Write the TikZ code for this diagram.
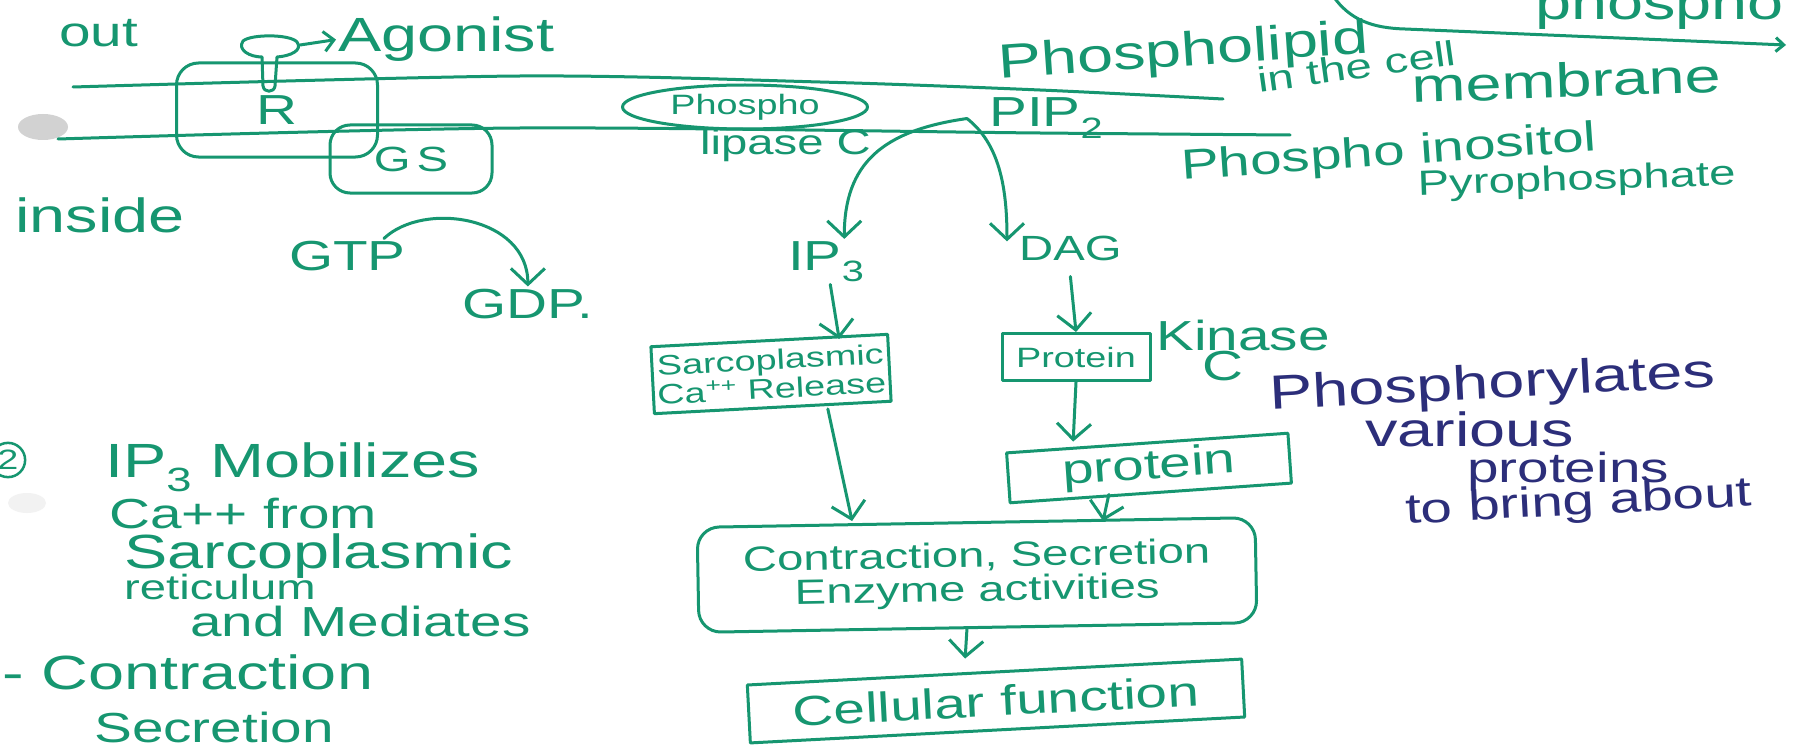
\documentclass[tikz,border=0pt]{standalone}
\usepackage{fontspec}
\setmainfont{Liberation Sans}[FakeStretch=1.35]
\usetikzlibrary{positioning}
\usetikzlibrary{shapes.geometric, arrows.meta}
\definecolor{ink}{RGB}{22,150,112}
\definecolor{bink}{RGB}{44,46,122}

\begin{document}
\begin{tikzpicture}[x=1pt,y=-1pt,line cap=round,line join=round,
  hwL/.style={text=ink,inner sep=2pt,font=\fontsize{48}{48}\selectfont},
  hw/.style={text=ink,inner sep=2pt,font=\fontsize{42}{42}\selectfont},
  hwm/.style={text=ink,inner sep=2pt,font=\fontsize{35}{34}\selectfont},
  hws/.style={text=ink,inner sep=2pt,font=\fontsize{28}{29}\selectfont},
  hwB/.style={hwL,text=bink},
  pen/.style={draw=ink,line width=3pt},
  box/.style={pen,inner sep=3pt},
  arr/.style={pen,-{Straight Barb[length=16pt,width=34pt]}},
  arrS/.style={pen,-{Straight Barb[length=10pt,width=20pt]}}]
\fill[white] (0,0) rectangle (1793,749);
\useasboundingbox (0,0) rectangle (1793,749);
\fill[gray!35] (43,127) ellipse [x radius=25, y radius=13];
\fill[gray!10] (27,503) ellipse [x radius=19, y radius=10];

\draw[pen] plot[smooth] coordinates {(73,87) (520,76) (820,82) (1040,90) (1223,99)};
\draw[pen] plot[smooth] coordinates {(58,139) (520,128) (1040,133) (1290,135)};

\node[hw,anchor=base west] (out) at (57,47) {out};
\node[hwL,anchor=base west] (inside) at (13,232) {inside};
\node[box,rounded corners=22pt,minimum width=201pt,minimum height=94pt,hw] (R) at (277,110) {R};
\node[box,rounded corners=20pt,minimum width=162pt,minimum height=68pt,hwm] (Gs) at (411,159) {G\,S};

\draw[pen] (262,57) -- (263,86) .. controls (264,93) and (274,93) .. (275,86) -- (277,57) .. controls (291,56) and (303,50) .. (297,42) .. controls (290,34) and (251,34) .. (243,41) .. controls (237,50) and (250,57) .. (262,57) -- cycle;
\coordinate (cap) at (300,45);
\node[hwL,anchor=base west] (agonist) at (336,52) {Agonist};
\draw[arrS] (cap) -- (agonist.west);

\node[hw,anchor=base west] (GTP) at (287,270) {GTP};
\node[hw,anchor=base west] (GDP) at (460,318) {GDP.};
\draw[arr] ([xshift=-24pt]GTP.north east) .. controls +(40,-38) and +(0,-70) .. (GDP.north);

\node[hws,ellipse,draw=ink,line width=3pt,minimum width=245pt,minimum height=44pt,inner sep=0pt] (PLC) at (745,107) {Phospho};
\node[hwm,anchor=base west] (lipase) at (698,154) {lipase C};
\node[hw,anchor=base west] (PIP2) at (987,127) {PIP\textsubscript{2}};

\node[hwL,anchor=base west,rotate=4] (plipid) at (997,79) {Phospholipid};
\node[hwm,anchor=base west,rotate=8] (cellword) at (1257,93) {in the cell};
\node[hwL,anchor=base west,rotate=2] (membrane) at (1410,103) {membrane};
\node[hw,anchor=base west,rotate=4] (pinos) at (1180,180) {Phospho inositol};
\node[hwm,anchor=base west,rotate=2] (pyro) at (1416,196) {Pyrophosphate};

\coordinate (arcTop) at (1333,-4);
\coordinate (arrowEnd) at (1786,45);
\draw[pen,-{Straight Barb[length=8pt,width=14pt]}] (arcTop) .. controls (1350,20) and (1372,28) .. (1405,29) -- (arrowEnd);
\begin{scope}
\clip (1480,0) rectangle (1793,60);
\node[hwL,anchor=base west] (topword) at (1533,20) {phospho};
\end{scope}

\node[hw,anchor=base west] (IP3) at (786,270) {IP\textsubscript{3}};
\node[hwm,anchor=base west] (DAG) at (1017,260) {DAG};
\draw[arr] ([xshift=-20pt]PIP2.west) .. controls +(-85,12) and +(0,-75) .. ([xshift=18pt]IP3.north);
\draw[arr] ([xshift=-20pt]PIP2.west) .. controls +(32,25) and +(0,-55) .. ([xshift=-10pt,yshift=-8pt]DAG.north west);

\node[box,hws,align=center,minimum width=237pt,minimum height=67pt,rotate=3] (sarco) at (771,374) {Sarcoplasmic\\Ca\textsuperscript{++} Release};
\draw[arr] ([xshift=4pt]IP3.south) -- ([xshift=70pt]sarco.north);

\node[box,hws,minimum width=148pt,minimum height=47pt] (PKC) at (1076,357) {Protein};
\node[hw,anchor=base west] (kinase) at (1154,350) {Kinase};
\node[hw,anchor=base west] (kinC) at (1200,380) {C};
\draw[arr] ([yshift=-14pt]DAG.south) -- (PKC.north);

\node[box,hw,minimum width=282pt,minimum height=50pt,rotate=4] (protein) at (1149,468) {protein};
\draw[arr] (PKC.south) -- ([xshift=-74pt]protein.north);

\node[box,hwm,align=center,rounded corners=22pt,minimum width=558pt,minimum height=105pt,rotate=1] (contr) at (977,575) {Contraction, Secretion\\Enzyme activities};
\draw[arr] ([xshift=55pt]sarco.south) -- ([xshift=-124pt]contr.north);
\draw[arr] ([xshift=-42pt]protein.south) -- ([xshift=127pt]contr.north);

\node[box,hw,minimum width=495pt,minimum height=58pt,rotate=3] (cell) at (996,701) {Cellular function};
\draw[arr,shorten >=12pt] ([xshift=-11pt]contr.south) -- ([xshift=-30pt]cell.north);

\node[draw=ink,line width=2.5pt,circle,hws,inner sep=2pt] (num) at (8,460) {2};
\node[hwL,anchor=base west] (mobil) at (103,477) {IP\textsubscript{3} Mobilizes};
\node[hw,anchor=base west] (cafrom) at (107,528) {Ca++ from};
\node[hwL,anchor=base west] (sarcL) at (122,568) {Sarcoplasmic};
\node[hwm,anchor=base west] (retic) at (122,599) {reticulum};
\node[hw,anchor=base west] (mediates) at (188,636) {and Mediates};
\node[hwL,anchor=base west] (contrL) at (0,689) {- Contraction};
\node[hw,anchor=base west] (secrL) at (92,742) {Secretion};

\node[hwB,anchor=base west,rotate=3] (phosph) at (1268,410) {Phosphorylates};
\node[hwB,anchor=base west] (various) at (1363,446) {various};
\node[hwB,font=\fontsize{42}{42}\selectfont,anchor=base west] (proteins) at (1465,482) {proteins};
\node[hwB,font=\fontsize{42}{42}\selectfont,anchor=base west,rotate=3] (bring) at (1404,524) {to bring about};
\end{tikzpicture}
\end{document}
